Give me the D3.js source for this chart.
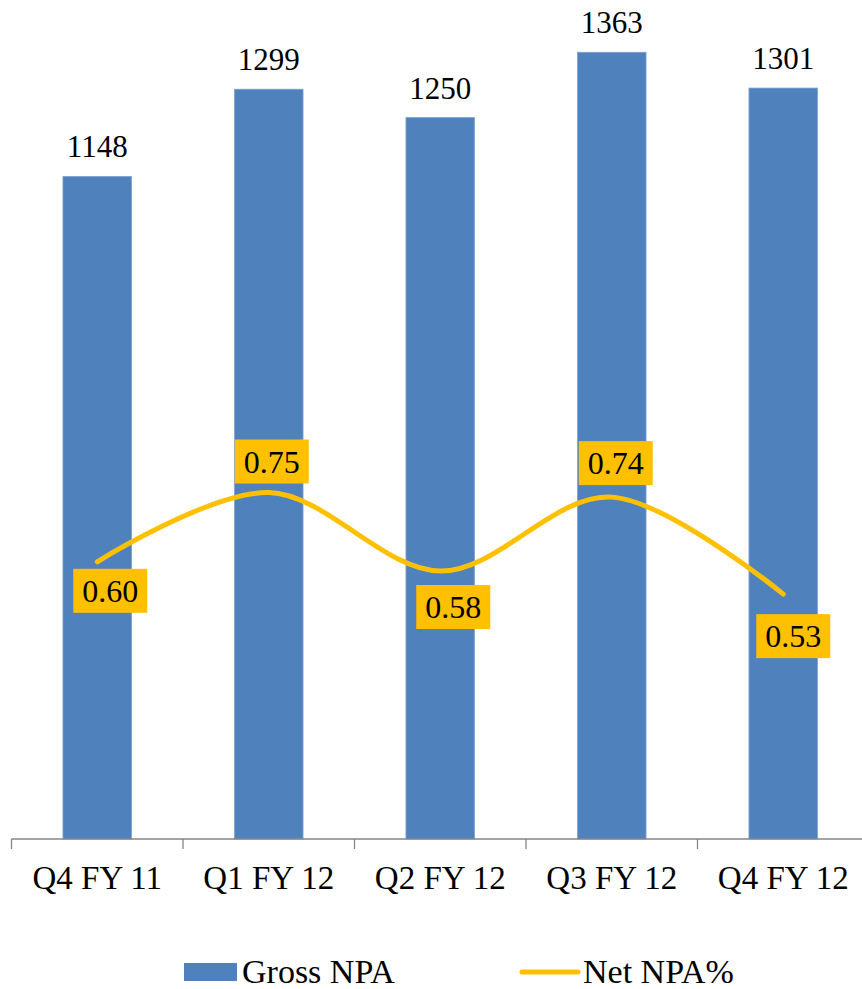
<!DOCTYPE html>
<html>
<head>
<meta charset="utf-8">
<script src="https://cdn.jsdelivr.net/npm/d3@7"></script>
<style>
  html, body { margin: 0; padding: 0; background: #fff; }
  svg { display: block; }
</style>
</head>
<body>
<svg id="chart" width="862" height="989"></svg>
<script>
const categories = ["Q4 FY 11", "Q1 FY 12", "Q2 FY 12", "Q3 FY 12", "Q4 FY 12"];
const grossNPA = [1148, 1299, 1250, 1363, 1301];
const netNPA = [0.60, 0.75, 0.58, 0.74, 0.53];
const netLabels = ["0.60", "0.75", "0.58", "0.74", "0.53"];
const labelShift = [[13, 29], [3, -31], [13, 36], [4, -34], [10, 42]];

const FONT = "'Liberation Serif', 'Times New Roman', Times, serif";
const svg = d3.select("#chart").attr("font-family", FONT);
const baseY = 839;

const x = d3.scaleBand().domain(categories).range([11.5, 869]).paddingInner(0.6).paddingOuter(0.3);
const y = d3.scaleLinear().domain([0, 1400]).range([baseY, baseY - 1400 * 0.5772]);
const y2 = d3.scaleLinear().domain([0, 1.8]).range([baseY, baseY - 1.8 * 462]);

// bars
svg.append("g").selectAll("rect").data(grossNPA).join("rect")
  .attr("x", (d, i) => x(categories[i]))
  .attr("y", d => y(d))
  .attr("width", x.bandwidth())
  .attr("height", d => baseY - y(d))
  .attr("fill", "#4F81BD")
  .attr("stroke", "#7FA3D3")
  .attr("stroke-width", 0.8);

// bar labels
svg.append("g").selectAll("text").data(grossNPA).join("text")
  .attr("x", (d, i) => x(categories[i]) + x.bandwidth() / 2)
  .attr("y", d => y(d) - 19)
  .attr("text-anchor", "middle")
  .attr("font-family", FONT)
  .attr("font-size", 31)
  .text(d => d);

// x axis
const step = x.step();
const axisG = svg.append("g");
axisG.append("line").attr("x1", 11.5).attr("x2", 862).attr("y1", baseY).attr("y2", baseY)
  .attr("stroke", "#868686").attr("stroke-width", 1.3);
const tickPos = d3.range(categories.length + 1).map(i => 11.5 + i * step);
axisG.selectAll("line.tick").data(tickPos).join("line").attr("class", "tick")
  .attr("x1", d => d).attr("x2", d => d).attr("y1", baseY).attr("y2", baseY + 10)
  .attr("stroke", "#868686").attr("stroke-width", 1.3);
axisG.selectAll("text").data(categories).join("text")
  .attr("x", d => x(d) + x.bandwidth() / 2)
  .attr("y", 889)
  .attr("text-anchor", "middle")
  .attr("font-family", FONT)
  .attr("font-size", 33)
  .text(d => d);

// line
const cx = i => x(categories[i]) + x.bandwidth() / 2;
const line = d3.line()
  .x((d, i) => cx(i))
  .y(d => y2(d))
  .curve(d3.curveCardinal.tension(0));
svg.append("path").datum(netNPA)
  .attr("d", line)
  .attr("fill", "none")
  .attr("stroke", "#FFC000")
  .attr("stroke-width", 5)
  .attr("stroke-linecap", "round");

// line labels
const lblG = svg.append("g");
netNPA.forEach((v, i) => {
  const px = cx(i) + labelShift[i][0];
  const py = y2(v) + labelShift[i][1];
  const w = 74, h = 44;
  lblG.append("rect").attr("x", px - w / 2).attr("y", py - h / 2).attr("width", w).attr("height", h)
    .attr("fill", "#FFC000");
  lblG.append("text").attr("x", px).attr("y", py + 11)
    .attr("text-anchor", "middle").attr("font-family", FONT).attr("font-size", 32).text(netLabels[i]);
});

// legend
const lg = svg.append("g");
lg.append("rect").attr("x", 184).attr("y", 963).attr("width", 53).attr("height", 18).attr("fill", "#4F81BD");
lg.append("text").attr("x", 242).attr("y", 983).attr("font-family", FONT).attr("font-size", 34).text("Gross NPA");
lg.append("line").attr("x1", 522).attr("x2", 578).attr("y1", 972).attr("y2", 972)
  .attr("stroke", "#FFC000").attr("stroke-width", 5).attr("stroke-linecap", "round");
lg.append("text").attr("x", 583).attr("y", 983).attr("font-family", FONT).attr("font-size", 34).text("Net NPA%");
</script>
</body>
</html>
